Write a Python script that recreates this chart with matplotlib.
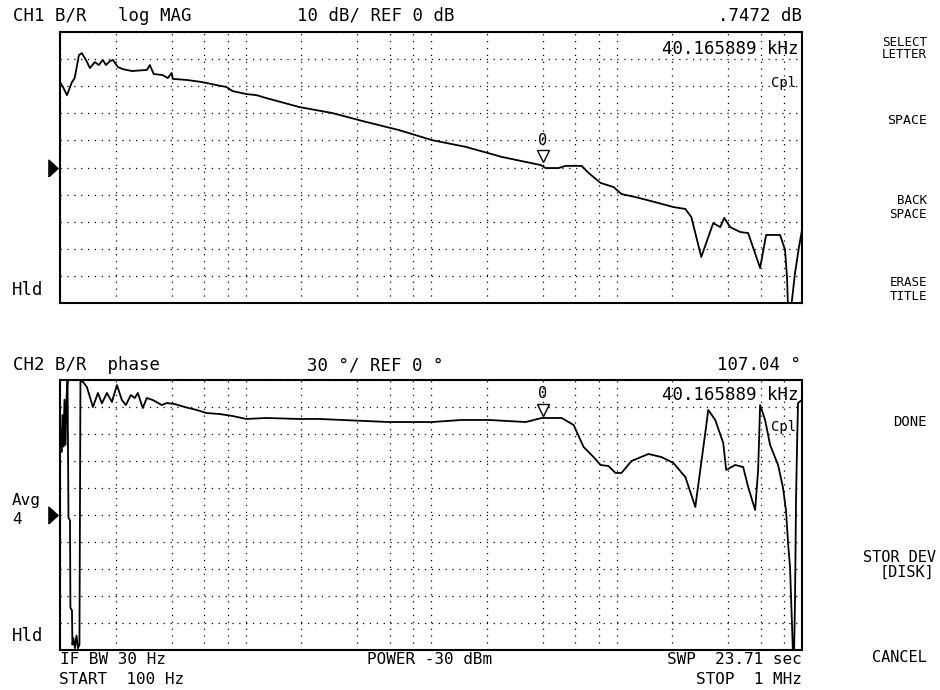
import numpy as np
import matplotlib.pyplot as plt
from matplotlib.ticker import NullLocator
from matplotlib.transforms import offset_copy, blended_transform_factory

plt.rcParams['font.family'] = ['DejaVu Sans Mono', 'DejaVu Sans']

# CH1: B/R log magnitude (Hz, dB)
mag_freq = [100, 103.8, 109, 116, 120, 126.5, 131, 138, 145, 154, 162, 170, 177, 186, 193,
            205, 218, 244, 294, 305, 320, 358, 381, 400, 405, 482, 587, 698, 790, 851,
            1012, 1146, 1297, 1953, 2936, 4473, 6730, 10125, 15430, 24090, 39030, 41520,
            48800, 53190, 64900, 70700, 82040, 96360, 106380, 126500, 168200, 202660,
            235100, 253100, 286420, 332310, 362380, 380770, 410130, 464190, 512530,
            594610, 640490, 761680, 810300, 830700, 841010, 872790, 917080, 963620, 1000000]
mag_db = [31.5, 29.7, 26.7, 31.5, 33.0, 41.5, 42.2, 39.7, 36.7, 38.9, 37.8, 39.7, 37.8, 39.3, 39.7,
          37.1, 36.3, 35.6, 36.0, 37.8, 34.5, 34.1, 33.0, 34.9, 32.7, 32.3, 31.5, 30.4, 29.7, 28.2,
          27.1, 26.7, 25.6, 22.3, 20.1, 16.8, 13.8, 10.1, 7.6, 3.9, 0.9, -0.2,
          -0.2, 0.6, 0.6, -2.0, -5.7, -7.2, -9.8, -10.9, -13.1, -14.6,
          -15.3, -18.3, -33.0, -20.5, -22.0, -18.6, -22.0, -23.8, -24.2,
          -37.1, -24.9, -24.9, -30.4, -40.8, -52.0, -52.0, -38.9, -29.3, -23.0]

# CH2: B/R phase (Hz, degrees)
phase_freq = [100.6, 101.9, 103.1, 104.4, 105.7, 107.1, 108.4, 109.8, 111.1, 113.2, 113.8, 116.0,
              116.7, 118.2, 120.4, 122.7, 125.0, 127.3, 128.9, 132.9, 139.7, 150.5, 160.1, 168.2,
              179.0, 190.5, 202.7, 215.5, 226.5, 240.9, 253.1, 262.6, 279.4, 293.6, 316.2, 353.5,
              376.1, 415.2, 470.0, 545.3, 617.1, 724.9, 851.4, 1012, 1297, 1953, 2500, 4473, 5946,
              10125, 14680, 20518, 32420, 39520, 50620, 58730, 66470, 75230, 82040, 90570, 98780,
              106380, 120410, 148620, 174610, 202660, 235100, 265920, 300960, 312350, 340630,
              376110, 390330, 436350, 481770, 512530, 558900, 580100, 594610, 632600, 672990,
              743000, 790520, 820400, 841010, 862000, 872790, 894710, 905700, 917080, 928520,
              940110, 951840, 1000000]
phase_deg = [94, 70, 111, 76, 128, 78, 130, 149, -3, -6, -103, -106,
             -144, -137, -148, -134, -148, -144, 149, 148, 142, 120, 135.6, 124,
             135.6, 125.6, 144.4, 127.8, 122.2, 133.3, 130, 135.6, 118.9, 130, 127.8, 122.2,
             124.4, 123.3, 120, 116.7, 113.3, 112.2, 110, 106.7, 107.8, 106.7, 106.7, 104.4, 103.3,
             103.3, 105.6, 105.6, 103.3, 107.8, 107.8, 100, 75.6, 64.4, 55.6, 54.4, 46.7,
             46.7, 60, 67.8, 64.4, 57.8, 42.2, 8.9, 91.1, 116.7, 105.6,
             80, 50, 55.6, 53.3, 31.1, 5.6, 50, 122.2, 105.6, 77.8,
             55.6, 30, 4.4, -31, -57.8, -91, -156, -156, -94, 16.7,
             75.6, 124.4, 128]

marker_freq = 40165.889
marker_mag = 0.7472
marker_phase = 107.04

grid_freqs = [100, 200, 400, 600, 800, 1e3, 2e3, 4e3, 6e3, 8e3, 1e4, 2e4, 4e4, 6e4, 8e4,
              1e5, 2e5, 4e5, 6e5, 8e5, 1e6]

W, H = 940, 690


def fx(x):
    return x / W


def fy(y):
    return 1 - y / H


fig = plt.figure(figsize=(9.4, 6.9), dpi=100)
ax1 = fig.add_axes([fx(60), fy(303), fx(802) - fx(60), fy(32) - fy(303)])
ax2 = fig.add_axes([fx(60), fy(650), fx(802) - fx(60), fy(380) - fy(650)])


def setup(ax, lo, hi, step):
    ax.set_xscale('log')
    ax.set_xlim(100, 1e6)
    ax.set_ylim(lo, hi)
    ax.set_xticks(grid_freqs)
    ax.xaxis.set_minor_locator(NullLocator())
    ax.set_yticks(np.arange(lo, hi + step, step))
    ax.tick_params(length=0, labelbottom=False, labelleft=False)
    ax.grid(True, color='black', lw=0.9, ls=(0, (1, 4.5)))
    for s in ax.spines.values():
        s.set_linewidth(1.5)


setup(ax1, -50, 50, 10)
setup(ax2, -150, 150, 30)

ax1.plot(mag_freq, mag_db, color='black', lw=1.3)
ax2.plot(phase_freq, phase_deg, color='black', lw=1.3)

# reference-position arrows and marker 0
ref_tri = [(-0.55, -1), (0.55, 0), (-0.55, 1), (-0.55, -1)]
for ax, val in [(ax1, marker_mag), (ax2, marker_phase)]:
    tr = blended_transform_factory(ax.transAxes, ax.transData)
    ax.plot([-0.009], [0], transform=tr, marker=ref_tri, ms=12, color='black', clip_on=False)
    tri = offset_copy(ax.transData, fig=fig, x=0, y=9, units='dots')
    ax.plot([marker_freq], [val], marker='v', ms=9, mfc='white', mec='black', mew=1,
            transform=tri, clip_on=False)
    ax.annotate('0', xy=(marker_freq, val), xytext=(0, 25), textcoords='offset pixels',
                ha='center', va='center', fontsize=11)

fs = 12.5
# headers
fig.text(fx(13), fy(16), 'CH1 B/R   log MAG', va='center', fontsize=fs)
fig.text(fx(297), fy(16), '10 dB/ REF 0 dB', va='center', fontsize=fs)
fig.text(fx(802), fy(16), '.7472 dB', va='center', ha='right', fontsize=fs)
fig.text(fx(13), fy(365), 'CH2 B/R  phase', va='center', fontsize=fs)
fig.text(fx(307), fy(365), '30 °/ REF 0 °', va='center', fontsize=fs)
fig.text(fx(801), fy(365), '107.04 °', va='center', ha='right', fontsize=fs)

# marker readouts
fig.text(fx(798), fy(49), '40.165889 kHz', va='center', ha='right', fontsize=fs)
fig.text(fx(796), fy(83), 'Cpl', va='center', ha='right', fontsize=10)
fig.text(fx(798), fy(395), '40.165889 kHz', va='center', ha='right', fontsize=fs)
fig.text(fx(796), fy(427), 'Cpl', va='center', ha='right', fontsize=10)

# left status
fig.text(fx(12), fy(290), 'Hld', va='center', fontsize=fs)
fig.text(fx(12), fy(501), 'Avg', va='center', fontsize=11.5)
fig.text(fx(12), fy(520), '4', va='center', fontsize=11.5)
fig.text(fx(12), fy(636), 'Hld', va='center', fontsize=fs)

# bottom status
fs2 = 11.5
fig.text(fx(60), fy(660), 'IF BW 30 Hz', va='center', fontsize=fs2)
fig.text(fx(59), fy(679), 'START  100 Hz', va='center', fontsize=fs2)
fig.text(fx(367), fy(660), 'POWER -30 dBm', va='center', fontsize=fs2)
fig.text(fx(802), fy(660), 'SWP  23.71 sec', va='center', ha='right', fontsize=fs2)
fig.text(fx(802), fy(679), 'STOP  1 MHz', va='center', ha='right', fontsize=fs2)

# softkey menu
menu = [('SELECT', 43, 927, 9), ('LETTER', 55, 927, 9), ('SPACE', 120, 927, 9.5),
        ('BACK', 201, 927, 9), ('SPACE', 214, 927, 9), ('ERASE', 283, 927, 9),
        ('TITLE', 296, 927, 9), ('DONE', 422, 927, 10), ('STOR DEV', 558, 936, 11),
        ('[DISK]', 572, 934, 11), ('CANCEL', 658, 927, 11)]
for label, y, x, size in menu:
    fig.text(fx(x), fy(y), label, va='center', ha='right', fontsize=size)

fig.savefig('out.png', dpi=100, facecolor='white')
